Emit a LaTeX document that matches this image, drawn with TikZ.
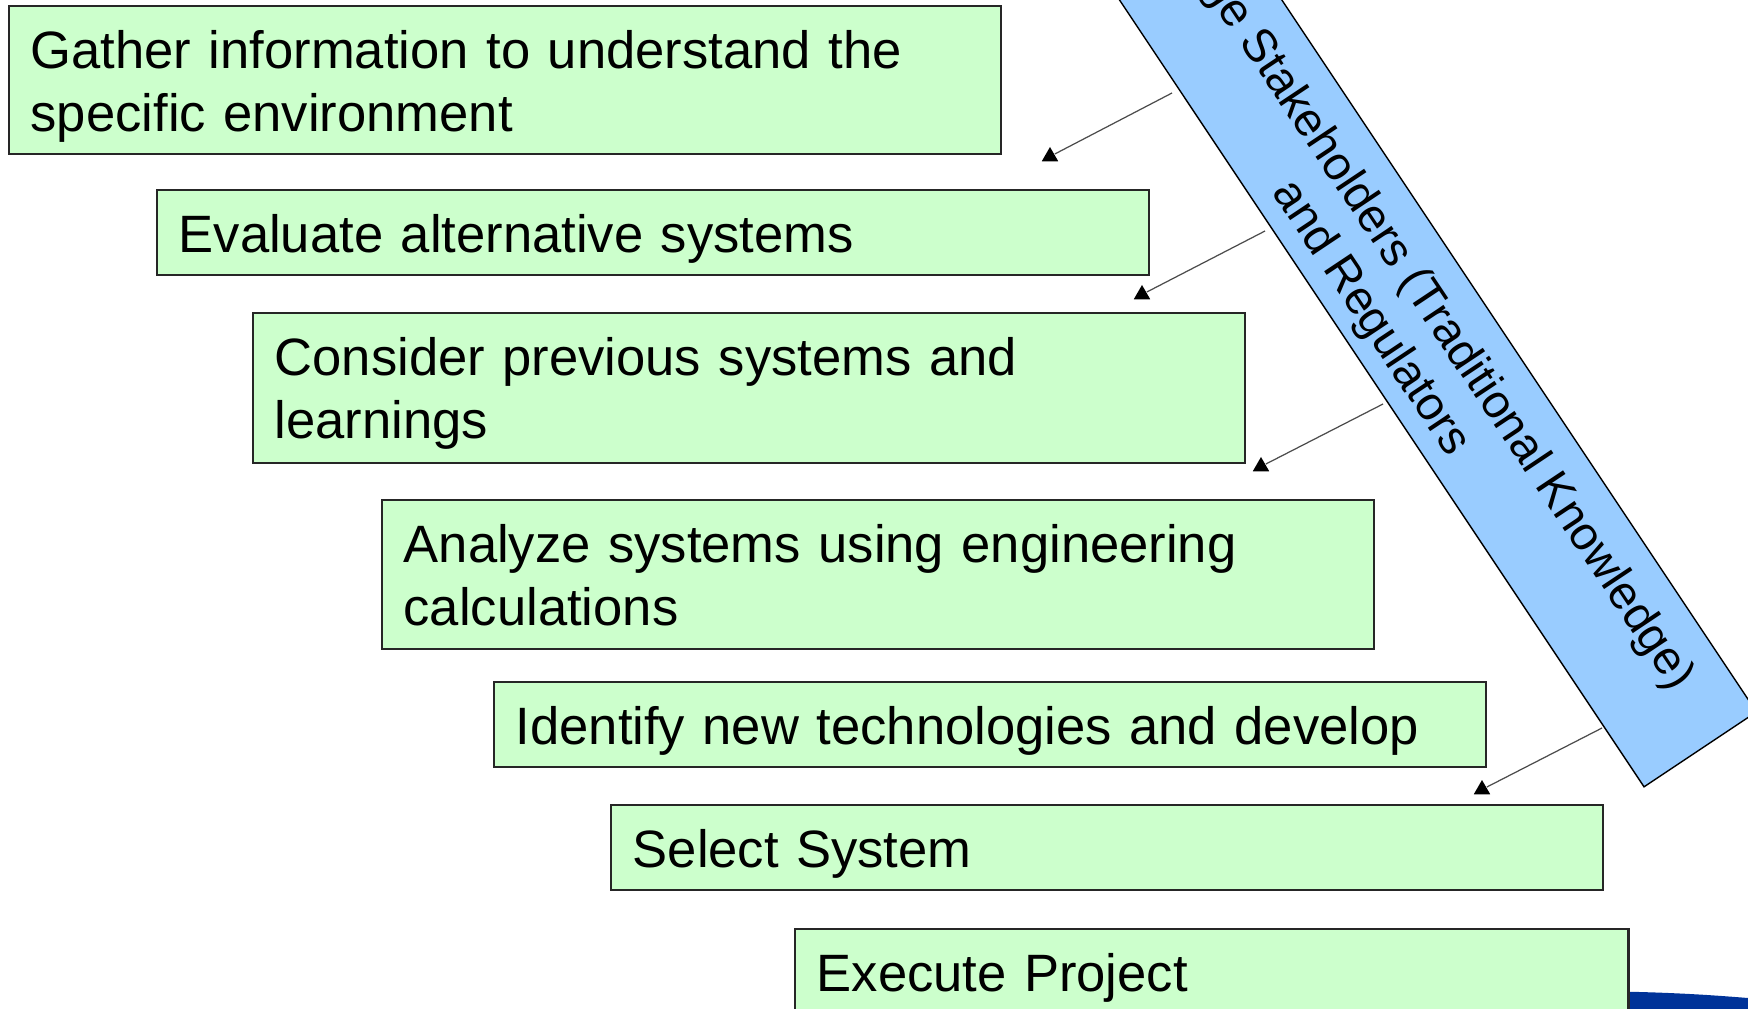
\documentclass[tikz,border=0pt]{standalone}
\usepackage{fontspec}
\setmainfont{Liberation Sans}
\usetikzlibrary{shapes.geometric,calc}
\definecolor{boxgreen}{HTML}{CCFFCC}
\definecolor{bandblue}{HTML}{99CCFF}
\definecolor{swooshblue}{HTML}{003399}
\begin{document}
\begin{tikzpicture}[x=0.01cm,y=-0.01cm,
  stepbox/.style={draw=black!85, line width=0.6pt, fill=boxgreen, inner sep=0pt, outer sep=0pt, anchor=north west},
  steptext/.style={anchor=base west, inner sep=0pt, align=left, text width=9.4cm,
    font=\fontsize{14.95pt}{17.93pt}\selectfont},
  bandbox/.style={draw=black, line width=0.4pt, fill=bandblue, inner sep=0pt,
    minimum width=10.82cm, minimum height=1.35cm},
  bandtext/.style={inner sep=0pt, align=center,
    font=\fontsize{13.37pt}{16pt}\selectfont},
  tri/.style={regular polygon, regular polygon sides=3, fill=black, draw=none,
    inner sep=0pt, minimum size=0.19cm},
  link/.style={draw=black!70, line width=0.35pt}
]
\useasboundingbox (0,0) rectangle (1748,1009);
\clip (0,0) rectangle (1748,1009);

% bottom-right swoosh (partly hidden behind last box)
\fill[swooshblue] (1560,991) .. controls (1660,991) and (1710,995) .. (1748,998)
  -- (1748,1009) -- (1560,1009) -- cycle;

% diagonal band
\node[bandbox, rotate=-56.31] (band) at (1400,299) {};
\node[bandtext, rotate=-56.31] (bandlabel) at ([shift={(-6.2,4.2)}]band.center)
  {Engage Stakeholders (Traditional Knowledge)\\and Regulators};

% connectors
\coordinate (a1) at (1172,93);
\coordinate (a2) at (1265,231);
\coordinate (a3) at (1383,404);
\coordinate (a4) at (1602,728);
\node[tri] (h1) at (1050,156.5) {};
\node[tri] (h2) at (1142,294.5) {};
\node[tri] (h3) at (1261,466.5) {};
\node[tri] (h4) at (1482,789.5) {};
\draw[link] (a1) -- (h1);
\draw[link] (a2) -- (h2);
\draw[link] (a3) -- (h3);
\draw[link] (a4) -- (h4);

% step boxes
\node[stepbox, minimum width=9.91cm, minimum height=1.48cm] (b1) at (9,6) {};
\node[stepbox, minimum width=9.91cm, minimum height=0.85cm] (b2) at (157,190) {};
\node[stepbox, minimum width=9.91cm, minimum height=1.50cm] (b3) at (253,313) {};
\node[stepbox, minimum width=9.91cm, minimum height=1.49cm] (b4) at (382,500) {};
\node[stepbox, minimum width=9.91cm, minimum height=0.85cm] (b5) at (494,682) {};
\node[stepbox, minimum width=9.91cm, minimum height=0.85cm] (b6) at (611,805) {};
\node[stepbox, minimum width=8.33cm, minimum height=0.85cm] (b7) at (795,929) {};

\node[steptext] (t1) at ([shift={(21,62)}]b1.north west) {Gather information to understand the\\specific environment};
\node[steptext] (t2) at ([shift={(21,62)}]b2.north west) {Evaluate alternative systems};
\node[steptext] (t3) at ([shift={(21,62)}]b3.north west) {Consider previous systems and\\learnings};
\node[steptext] (t4) at ([shift={(21,62)}]b4.north west) {Analyze systems using engineering\\calculations};
\node[steptext] (t5) at ([shift={(21,62)}]b5.north west) {Identify new technologies and develop};
\node[steptext] (t6) at ([shift={(21,62)}]b6.north west) {Select System};
\node[steptext] (t7) at ([shift={(21,62)}]b7.north west) {Execute Project};
\end{tikzpicture}
\end{document}
